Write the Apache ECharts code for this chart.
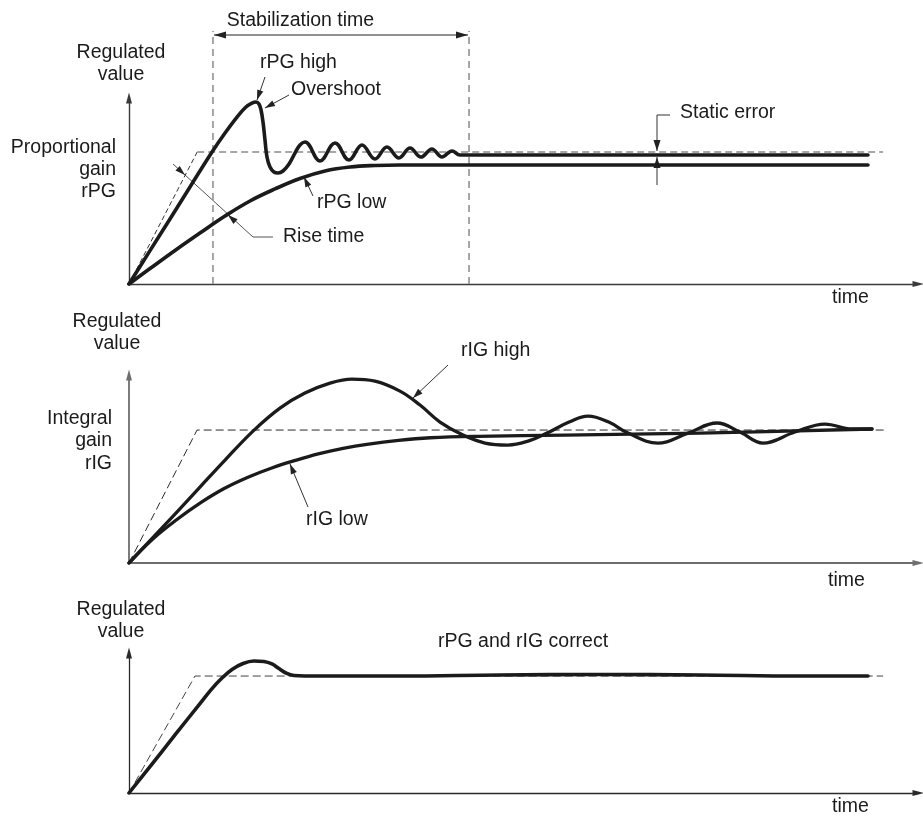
<!DOCTYPE html>
<html>
<head>
<meta charset="utf-8">
<script src="https://cdn.jsdelivr.net/npm/echarts@6/dist/echarts.min.js"></script>
<style>
  html, body { margin: 0; padding: 0; background: #fff; }
  #chart { width: 923px; height: 817px; }
</style>
</head>
<body>
<div id="chart"></div>
<script>
// ---- data (time in arbitrary units, value relative to setpoint = 1) ----
// panel 1 : proportional gain
var sp1T = [0, 8.6, 95.1];
var sp1V = [0, 1, 1];
var stabT = [10.59, 42.88];
var pgHighT = [0, 2.65, 5.17, 7.69, 10.47, 12.11, 13.62, 14.75, 15.51, 16.02, 16.39, 16.65, 16.9, 17.15, 17.4, 17.78, 18.28, 18.79, 19.42, 20.18, 20.93, 21.56, 22.19, 24.09, 25.98, 27.74, 29.38, 31.02, 32.53, 34.05, 35.44, 36.82, 38.2, 39.47, 40.73, 41.74, 93.19];
var pgHighV = [0, 0.253, 0.492, 0.735, 1.0, 1.144, 1.265, 1.341, 1.371, 1.379, 1.364, 1.318, 1.227, 1.091, 0.962, 0.886, 0.848, 0.841, 0.856, 0.909, 0.992, 1.053, 1.076, 0.932, 1.068, 0.939, 1.053, 0.947, 1.038, 0.955, 1.03, 0.962, 1.023, 0.962, 1.008, 0.977, 0.977];
var pgLowT = [0, 2.65, 5.8, 8.95, 12.11, 15.26, 18.41, 21.56, 24.72, 27.87, 31.02, 34.17, 93.19];
var pgLowV = [0, 0.117, 0.254, 0.386, 0.515, 0.629, 0.72, 0.799, 0.856, 0.886, 0.898, 0.902, 0.902];

// panel 2 : integral gain
var sp2T = [0, 8.58, 95.2];
var sp2V = [0, 1, 1];
var igHighT = [0, 2.65, 5.8, 8.95, 12.11, 15.64, 19.04, 22.19, 25.35, 28.12, 31.02, 34.17, 36.7, 39.22, 42.12, 44.89, 47.79, 50.5, 52.71, 55.5, 57.88, 60.5, 62.93, 66.71, 70.49, 74.15, 77.05, 79.95, 83.98, 87.77, 91.17, 93.7];
var igHighV = [0, 0.169, 0.368, 0.571, 0.774, 0.992, 1.165, 1.278, 1.353, 1.383, 1.368, 1.293, 1.188, 1.06, 0.962, 0.902, 0.887, 0.92, 0.977, 1.06, 1.105, 1.06, 0.977, 0.902, 0.977, 1.053, 0.985, 0.902, 0.985, 1.045, 1.008, 1.008];
var igLowT = [0, 3, 6, 9, 12, 15, 18, 21, 24, 27, 30, 34, 38, 44, 55, 72, 93.7];
var igLowV = [0, 0.18, 0.325, 0.452, 0.56, 0.645, 0.715, 0.772, 0.822, 0.862, 0.893, 0.923, 0.942, 0.953, 0.962, 0.977, 1.008];

// panel 3 : both correct
var sp3T = [0, 8.32, 95.1];
var sp3V = [0, 1, 1];
var okT = [0, 2.65, 5.8, 8.95, 10.47, 11.73, 12.99, 14.38, 15.76, 17.02, 18.03, 18.91, 19.8, 20.81, 22.19, 34.17, 46.78, 59.4, 72, 84.6, 93.19];
var okV = [0, 0.226, 0.496, 0.765, 0.893, 0.983, 1.056, 1.107, 1.128, 1.124, 1.103, 1.064, 1.026, 1.004, 1.0, 1.0, 1.009, 1.013, 1.009, 1.0, 1.0];

var xMax = 99.5;
var yMax = [1.409, 1.414, 1.197];

function pairs(t, v) {
    var out = [];
    for (var i = 0; i < t.length; i++) out.push([t[i], v[i]]);
    return out;
}

var FONT = '19.5px "Liberation Sans", Arial, sans-serif';
var INK = '#1b1b1b';

function txt(s, x, y, align) {
    return {
        type: 'text', x: x, y: y, silent: true,
        style: { text: s, font: FONT, fill: INK, textAlign: align, textVerticalAlign: 'middle' }
    };
}
function poly(pts, color, w) {
    return { type: 'polyline', silent: true, shape: { points: pts },
        style: { stroke: color || '#333', lineWidth: w || 1, fill: null } };
}
// filled arrow head, tip at (tx,ty), coming from (fx,fy)
function head(tx, ty, fx, fy, len, hw) {
    len = len || 10; hw = hw || 3.2;
    var dx = tx - fx, dy = ty - fy, n = Math.sqrt(dx * dx + dy * dy);
    var ux = dx / n, uy = dy / n;
    var bx = tx - ux * len, by = ty - uy * len;
    return { type: 'polygon', silent: true,
        shape: { points: [[tx, ty], [bx - uy * hw, by + ux * hw], [bx + uy * hw, by - ux * hw]] },
        style: { fill: '#222' } };
}

function axisPair(i, color, w) {
    var ls = { color: color, width: w };
    return {
        x: { type: 'value', gridIndex: i, min: 0, max: xMax,
            axisLabel: { show: false }, axisTick: { show: false }, splitLine: { show: false },
            axisLine: { show: true, symbol: ['none', 'triangle'], symbolSize: [6, 11], lineStyle: ls } },
        y: { type: 'value', gridIndex: i, min: 0, max: yMax[i],
            axisLabel: { show: false }, axisTick: { show: false }, splitLine: { show: false },
            axisLine: { show: true, symbol: ['none', 'triangle'], symbolSize: [6, 11], lineStyle: ls } }
    };
}

function curve(i, t, v, width) {
    return { type: 'line', xAxisIndex: i, yAxisIndex: i, data: pairs(t, v),
        showSymbol: false, smooth: 0.4, silent: true, z: 3,
        lineStyle: { color: INK, width: width || 3.5, cap: 'round', join: 'round' } };
}
function dashed(i, t, v, color, width, dash) {
    return { type: 'line', xAxisIndex: i, yAxisIndex: i, data: pairs(t, v),
        showSymbol: false, silent: true, clip: false, z: 2,
        lineStyle: { color: color, width: width, type: dash } };
}

var a0 = axisPair(0, '#3a3a3a', 1.4), a1 = axisPair(1, '#6e6e6e', 1.8), a2 = axisPair(2, '#2a2a2a', 1.3);

var chart = echarts.init(document.getElementById('chart'), null, { renderer: 'canvas' });

var option = {
    animation: false,
    backgroundColor: '#fff',
    grid: [
        { left: 129, top: 98, width: 789, height: 186 },
        { left: 129, top: 375, width: 789, height: 188 },
        { left: 129, top: 653, width: 789, height: 140 }
    ],
    xAxis: [a0.x, a1.x, a2.x],
    yAxis: [a0.y, a1.y, a2.y],
    series: [
        // panel 1
        dashed(0, sp1T.slice(0, 2), sp1V.slice(0, 2), '#333', 1, [5, 3]),
        dashed(0, sp1T.slice(1), sp1V.slice(1), '#8a8a8a', 1.6, [7, 4]),
        dashed(0, [stabT[0], stabT[0]], [0, 1.917], '#8a8a8a', 1.5, [7, 5]),
        dashed(0, [stabT[1], stabT[1]], [0, 1.917], '#8a8a8a', 1.5, [7, 5]),
        curve(0, pgHighT, pgHighV, 3.6),
        curve(0, pgLowT, pgLowV, 3.6),
        // panel 2
        dashed(1, sp2T, sp2V, '#2a2a2a', 1, [8, 4]),
        curve(1, igHighT, igHighV, 3.3),
        curve(1, igLowT, igLowV, 3.3),
        // panel 3
        dashed(2, sp3T, sp3V, '#444', 1, [8, 4]),
        curve(2, okT, okV, 3.6)
    ],
    graphic: [
        // panel 1 texts
        txt('Stabilization time', 300.5, 21, 'center'),
        txt('Regulated', 121, 53, 'center'), txt('value', 121, 75, 'center'),
        txt('Proportional', 116, 148, 'right'), txt('gain', 116, 170, 'right'), txt('rPG', 116, 192, 'right'),
        txt('rPG high', 260, 63, 'left'),
        txt('Overshoot', 291, 90, 'left'),
        txt('rPG low', 317, 203, 'left'),
        txt('Rise time', 283, 237, 'left'),
        txt('Static error', 680, 113, 'left'),
        txt('time', 832, 298, 'left'),
        // panel 1 leaders
        poly([[214, 35], [468, 35]], '#222', 1.2),
        head(214, 35, 260, 35, 12, 3.5), head(468, 35, 420, 35, 12, 3.5),
        poly([[265, 77], [257, 100]]), head(257, 100, 265, 77),
        poly([[289, 95], [265, 108]]), head(265, 108, 289, 95),
        poly([[313, 196], [304, 177]]), head(304, 177, 313, 196),
        poly([[273, 237], [253, 237], [173, 164]], '#555', 1),
        head(185, 175, 173, 164), head(228, 215, 253, 237),
        poly([[670, 115], [657, 115], [657, 151]]), head(657, 151, 657, 115, 11, 3.5),
        poly([[657, 185], [657, 157]]), head(657, 157, 657, 185, 11, 3.5),
        // panel 2
        txt('Regulated', 117, 322, 'center'), txt('value', 117, 344, 'center'),
        txt('Integral', 112, 419, 'right'), txt('gain', 112, 441, 'right'), txt('rIG', 112, 464, 'right'),
        txt('rIG high', 461, 351, 'left'),
        txt('rIG low', 306, 520, 'left'),
        txt('time', 828, 581, 'left'),
        poly([[448, 365], [413, 398]]), head(413, 398, 448, 365),
        poly([[308, 507], [290, 464]]), head(290, 464, 308, 507),
        // panel 3
        txt('Regulated', 121, 610, 'center'), txt('value', 121, 632, 'center'),
        txt('rPG and rIG correct', 438, 642, 'left'),
        txt('time', 832, 807, 'left')
    ]
};

chart.setOption(option);
</script>
</body>
</html>
